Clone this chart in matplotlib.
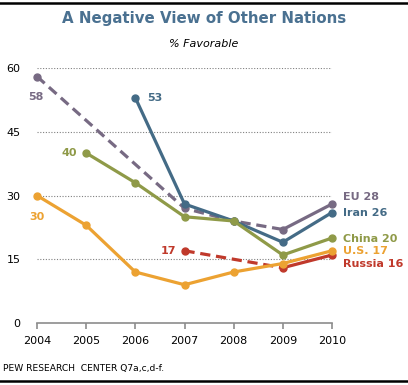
import numpy as np
import matplotlib.pyplot as plt
from matplotlib.lines import Line2D

## Données (% favorable)
annees = [2004, 2005, 2006, 2007, 2008, 2009, 2010]
nan = np.nan
ue = [58, nan, nan, 27, 24, 22, 28]
iran = [nan, nan, 53, 28, 24, 19, 26]
chine = [nan, 40, 33, 25, 24, 16, 20]
usa = [30, 23, 12, 9, 12, 14, 17]
russie = [nan, nan, nan, 17, nan, 13, 16]

y_ticks = [0, 15, 30, 45, 60]

c_ue = '#776a83'
c_iran = '#446b86'
c_chine = '#8f9a48'
c_usa = '#eca232'
c_russie = '#c0392b'

fig = plt.figure(figsize=(4.08, 3.85), dpi=100)
ax = fig.add_axes([37 / 408, 62 / 385, 295 / 408, 255 / 385])

x = np.array(annees, dtype=float)


def trace(vals, couleur, z, tirets=False):
    "tirets jusqu'a 2009 puis trait plein pour la derniere annee"
    v = np.array(vals, dtype=float)
    ok = ~np.isnan(v)
    xs, ys = x[ok], v[ok]
    if tirets:
        ax.plot(xs[:-1], ys[:-1], color=couleur, lw=2.3, ls=(0, (3.2, 1.8)),
                zorder=z, solid_capstyle='butt', clip_on=False)
        ax.plot(xs[-2:], ys[-2:], color=couleur, lw=2.3, zorder=z, clip_on=False)
    else:
        ax.plot(xs, ys, color=couleur, lw=2.3, zorder=z, clip_on=False)
    ax.plot(xs, ys, 'o', color=couleur, ms=5, zorder=z, clip_on=False)


trace(ue, c_ue, 2, tirets=True)
trace(russie, c_russie, 3, tirets=True)
trace(iran, c_iran, 4)
trace(chine, c_chine, 5)
trace(usa, c_usa, 6)

ax.set_xlim(2004, 2010)
ax.set_ylim(0, 60)

# grille pointillée
for t in y_ticks[1:]:
    ax.axhline(t, color='#808080', lw=0.8, ls=(0, (1, 1.5)), zorder=1)

for s in ['top', 'right', 'left']:
    ax.spines[s].set_visible(False)
ax.spines['bottom'].set_color('#8c8c8c')
ax.spines['bottom'].set_linewidth(1.2)

ax.set_xticks(annees)
ax.set_xticklabels([str(a) for a in annees], fontsize=8)
ax.set_yticks(y_ticks)
ax.set_yticklabels([str(t) for t in y_ticks], fontsize=8)
ax.tick_params(axis='x', length=4, color='#8c8c8c', width=1.2, pad=5)
ax.tick_params(axis='y', length=0, pad=12)

# étiquettes
def etiquette(txt, xv, yv, dx, dy, couleur, ha='center'):
    ax.annotate(txt, (xv, yv), xytext=(dx, dy), textcoords='offset pixels',
                ha=ha, va='center', color=couleur, fontsize=8, fontweight='bold',
                annotation_clip=False)


etiquette('58', 2004, ue[0], -1, -21, c_ue)
etiquette('53', 2006, iran[2], 12, 0, c_iran, ha='left')
etiquette('40', 2005, chine[1], -9, 0, c_chine, ha='right')
etiquette('30', 2004, usa[0], 0, -21, c_usa)
etiquette('17', 2007, russie[3], -8, 0, c_russie, ha='right')

etiquette('EU 28', 2010, ue[-1], 11, 7, c_ue, ha='left')
etiquette('Iran 26', 2010, iran[-1], 11, 0, c_iran, ha='left')
etiquette('China 20', 2010, chine[-1], 11, -1, c_chine, ha='left')
etiquette('U.S. 17', 2010, usa[-1], 11, 0, c_usa, ha='left')
etiquette('Russia 16', 2010, russie[-1], 11, -9, c_russie, ha='left')

fig.text(0.5, 1 - 18 / 385, 'A Negative View of Other Nations', ha='center', va='center',
         fontsize=10.8, fontweight='bold', color='#4a7191')
fig.text(0.5, 1 - 44 / 385, '% Favorable', ha='center', va='center',
         fontsize=8, style='italic', color='black')
fig.text(3 / 408, 1 - 368 / 385, 'PEW RESEARCH  CENTER Q7a,c,d-f.', ha='left', va='center',
         fontsize=6.6, color='black')

fig.add_artist(Line2D([0, 1], [1 - 3 / 385, 1 - 3 / 385], color='black', lw=1.8))
fig.add_artist(Line2D([0, 1], [1 - 381 / 385, 1 - 381 / 385], color='black', lw=1.8))

fig.savefig('out.png', dpi=100)
